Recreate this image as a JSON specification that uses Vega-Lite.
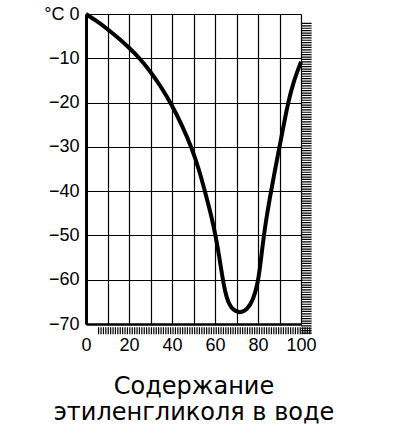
{
  "$schema": "https://vega.github.io/schema/vega-lite/v6.json",
  "width": 215,
  "height": 310,
  "autosize": {"type": "none"},
  "padding": {"left": 86, "top": 14, "right": 99, "bottom": 102},
  "background": "white",
  "data": {
    "values": [
      {"pct": 0, "temp": 0},
      {"pct": 5, "temp": -1.6},
      {"pct": 10, "temp": -3.4},
      {"pct": 15, "temp": -5.4},
      {"pct": 20, "temp": -7.6},
      {"pct": 25, "temp": -10},
      {"pct": 30, "temp": -13},
      {"pct": 35, "temp": -16.5},
      {"pct": 40, "temp": -20.6},
      {"pct": 45, "temp": -25.5},
      {"pct": 49, "temp": -30},
      {"pct": 52.5, "temp": -35},
      {"pct": 55.3, "temp": -40},
      {"pct": 58, "temp": -45},
      {"pct": 60.3, "temp": -50},
      {"pct": 62.2, "temp": -55.5},
      {"pct": 63.8, "temp": -60.5},
      {"pct": 65.5, "temp": -64.5},
      {"pct": 68, "temp": -66.8},
      {"pct": 71.6, "temp": -67.6},
      {"pct": 75, "temp": -66.8},
      {"pct": 77.8, "temp": -64.5},
      {"pct": 79.8, "temp": -61},
      {"pct": 81, "temp": -57},
      {"pct": 82.2, "temp": -52},
      {"pct": 83.6, "temp": -47},
      {"pct": 85.5, "temp": -41.5},
      {"pct": 87.6, "temp": -36},
      {"pct": 90, "temp": -30},
      {"pct": 92, "temp": -25},
      {"pct": 94, "temp": -20},
      {"pct": 96.5, "temp": -15.3},
      {"pct": 100, "temp": -10.8}
    ]
  },
  "layer": [
    {
      "data": {"values": [{}]},
      "mark": {"type": "rule", "color": "black", "strokeWidth": 10.5, "strokeDash": [1.2, 1.2]},
      "encoding": {
        "x": {"datum": 102.5, "type": "quantitative"},
        "y": {"datum": -2, "type": "quantitative"},
        "y2": {"datum": -72.2}
      }
    },
    {
      "data": {"values": [{}]},
      "mark": {"type": "rule", "color": "black", "strokeWidth": 7, "strokeDash": [1.2, 1.2]},
      "encoding": {
        "x": {"datum": 5.6, "type": "quantitative"},
        "x2": {"datum": 105},
        "y": {"datum": -71.5, "type": "quantitative"}
      }
    },
    {
      "mark": {"type": "line", "color": "black", "strokeWidth": 4, "interpolate": "basis"},
      "encoding": {
        "x": {
          "field": "pct",
          "type": "quantitative",
          "scale": {"domain": [0, 100], "nice": false},
          "axis": {
            "values": [0, 10, 20, 30, 40, 50, 60, 70, 80, 90, 100],
            "tickCount": 11,
            "labelExpr": "datum.value % 20 === 0 ? datum.label : ''",
            "labelFlush": false,
            "ticks": false,
            "domainWidth": 2.5,
            "labelPadding": 12,
            "title": ["Содержание", "этиленгликоля в воде"],
            "titleFont": "DejaVu Sans",
            "titleFontSize": 24,
            "titleFontWeight": "normal",
            "titleLineHeight": 26,
            "titlePadding": 20
          }
        },
        "y": {
          "field": "temp",
          "type": "quantitative",
          "scale": {"domain": [-70, 0], "nice": false, "zero": false},
          "axis": {
            "values": [0, -10, -20, -30, -40, -50, -60, -70],
            "tickCount": 8,
            "labelExpr": "datum.value === 0 ? '°C  0' : datum.label",
            "ticks": false,
            "domainWidth": 3,
            "labelPadding": 7,
            "title": null
          }
        }
      }
    }
  ],
  "config": {
    "view": {"stroke": null},
    "axis": {
      "grid": true,
      "gridColor": "black",
      "gridWidth": 1.2,
      "gridOpacity": 1,
      "domainColor": "black",
      "labelColor": "black",
      "labelFont": "Liberation Sans",
      "labelFontSize": 18,
      "titleColor": "black"
    }
  }
}
